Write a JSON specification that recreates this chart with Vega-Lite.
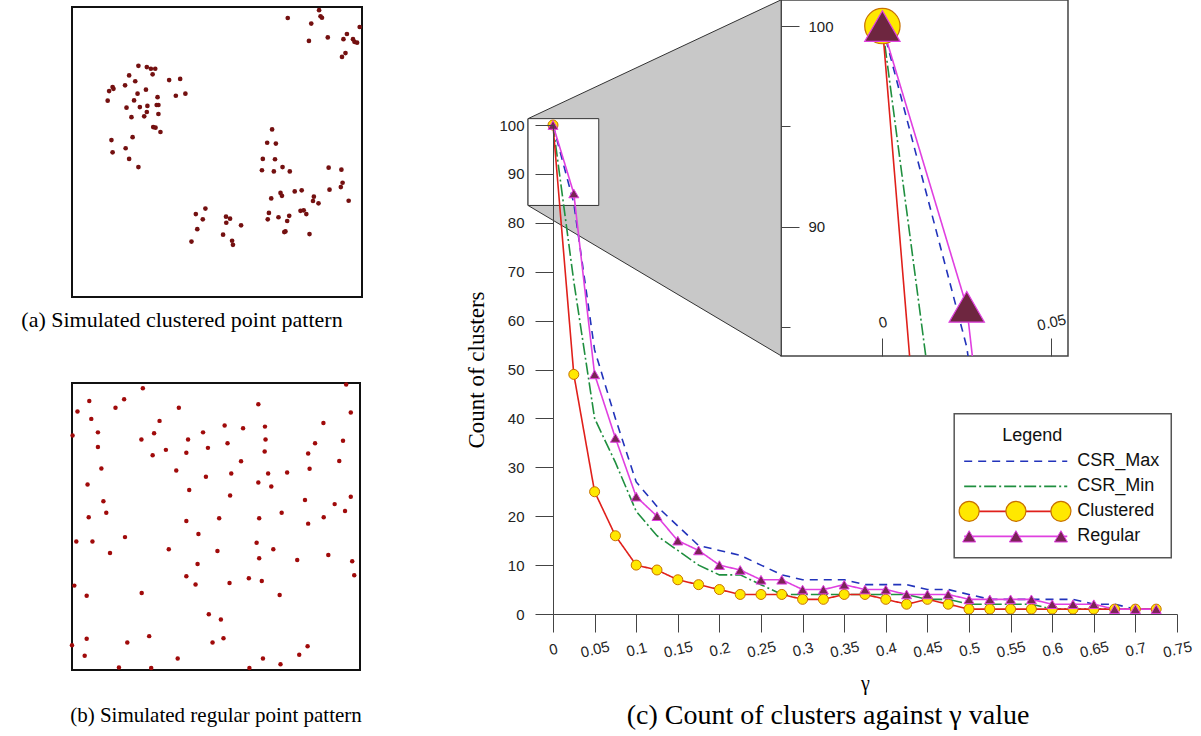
{
  "$schema": "https://vega.github.io/schema/vega-lite/v6.json",
  "background": "white",
  "padding": {"left": 20, "top": -3, "right": 0, "bottom": 0},
  "config": {
    "view": {"stroke": null},
    "axis": {"grid": false, "domainColor": "#444", "tickColor": "#444", "labelColor": "#222", "labelFont": "Liberation Sans", "labelFontSize": 15, "titleColor": "#000", "titleFont": "Liberation Serif", "titleFontWeight": "normal"},
    "title": {"font": "Liberation Serif", "fontWeight": "normal", "color": "#000"}
  },
  "datasets": {
    "one": [{}],
    "patA": [
      {"x":0.744,"y":0.962},{"x":0.852,"y":0.989},{"x":0.857,"y":0.968},{"x":0.862,"y":0.963},{"x":0.825,"y":0.943},{"x":0.817,"y":0.883},{"x":0.882,"y":0.895},{"x":0.936,"y":0.889},{"x":0.948,"y":0.907},{"x":0.969,"y":0.889},{"x":0.974,"y":0.880},{"x":0.983,"y":0.877},{"x":0.992,"y":0.931},{"x":0.943,"y":0.841},{"x":0.931,"y":0.828},
      {"x":0.229,"y":0.797},{"x":0.258,"y":0.793},{"x":0.272,"y":0.787},{"x":0.287,"y":0.787},{"x":0.278,"y":0.768},{"x":0.197,"y":0.764},{"x":0.218,"y":0.744},{"x":0.183,"y":0.730},{"x":0.140,"y":0.724},{"x":0.143,"y":0.718},{"x":0.128,"y":0.710},{"x":0.123,"y":0.677},{"x":0.255,"y":0.715},{"x":0.226,"y":0.701},{"x":0.214,"y":0.678},{"x":0.295,"y":0.689},{"x":0.335,"y":0.748},{"x":0.373,"y":0.752},{"x":0.358,"y":0.694},{"x":0.391,"y":0.701},{"x":0.188,"y":0.653},{"x":0.234,"y":0.655},{"x":0.260,"y":0.659},{"x":0.292,"y":0.662},{"x":0.298,"y":0.662},{"x":0.258,"y":0.638},{"x":0.298,"y":0.631},{"x":0.249,"y":0.623},{"x":0.205,"y":0.620},{"x":0.280,"y":0.586},{"x":0.288,"y":0.584},{"x":0.305,"y":0.569},{"x":0.136,"y":0.541},{"x":0.209,"y":0.551},{"x":0.140,"y":0.499},{"x":0.185,"y":0.513},{"x":0.197,"y":0.476},{"x":0.229,"y":0.448},
      {"x":0.427,"y":0.286},{"x":0.460,"y":0.305},{"x":0.451,"y":0.268},{"x":0.432,"y":0.234},{"x":0.412,"y":0.191},{"x":0.531,"y":0.277},{"x":0.545,"y":0.270},{"x":0.532,"y":0.256},{"x":0.583,"y":0.247},{"x":0.521,"y":0.215},{"x":0.552,"y":0.194},{"x":0.555,"y":0.180},
      {"x":0.690,"y":0.578},{"x":0.673,"y":0.532},{"x":0.703,"y":0.529},{"x":0.658,"y":0.476},{"x":0.700,"y":0.475},{"x":0.655,"y":0.437},{"x":0.696,"y":0.433},{"x":0.726,"y":0.448},{"x":0.751,"y":0.433},{"x":0.719,"y":0.359},{"x":0.724,"y":0.349},{"x":0.768,"y":0.364},{"x":0.792,"y":0.368},{"x":0.687,"y":0.340},{"x":0.679,"y":0.290},{"x":0.675,"y":0.268},{"x":0.712,"y":0.275},{"x":0.749,"y":0.280},{"x":0.742,"y":0.262},{"x":0.788,"y":0.297},{"x":0.799,"y":0.299},{"x":0.808,"y":0.286},{"x":0.834,"y":0.346},{"x":0.831,"y":0.331},{"x":0.850,"y":0.323},{"x":0.736,"y":0.226},{"x":0.732,"y":0.224},{"x":0.819,"y":0.217},{"x":0.885,"y":0.446},{"x":0.929,"y":0.439},{"x":0.888,"y":0.370},{"x":0.927,"y":0.379},{"x":0.933,"y":0.394},{"x":0.954,"y":0.332}
    ],
    "patB": [
      {"x":0.246,"y":0.982},{"x":0.952,"y":0.995},{"x":0.060,"y":0.937},{"x":0.181,"y":0.943},{"x":0.019,"y":0.901},{"x":0.151,"y":0.914},{"x":0.371,"y":0.914},{"x":0.647,"y":0.926},{"x":0.968,"y":0.897},{"x":0.067,"y":0.875},
      {"x":0.304,"y":0.868},{"x":0.090,"y":0.828},{"x":0.285,"y":0.825},{"x":0.002,"y":0.817},{"x":0.241,"y":0.803},{"x":0.403,"y":0.803},{"x":0.455,"y":0.828},{"x":0.530,"y":0.852},{"x":0.594,"y":0.842},{"x":0.670,"y":0.848},
      {"x":0.873,"y":0.861},{"x":0.672,"y":0.803},{"x":0.540,"y":0.790},{"x":0.472,"y":0.774},{"x":0.844,"y":0.790},{"x":0.941,"y":0.799},{"x":0.090,"y":0.777},{"x":0.280,"y":0.748},{"x":0.326,"y":0.767},{"x":0.397,"y":0.757},
      {"x":0.669,"y":0.761},{"x":0.820,"y":0.754},{"x":0.587,"y":0.727},{"x":0.928,"y":0.728},{"x":0.102,"y":0.702},{"x":0.362,"y":0.695},{"x":0.465,"y":0.673},{"x":0.553,"y":0.685},{"x":0.681,"y":0.685},{"x":0.747,"y":0.688},
      {"x":0.825,"y":0.701},{"x":0.647,"y":0.653},{"x":0.692,"y":0.639},{"x":0.054,"y":0.646},{"x":0.407,"y":0.627},{"x":0.549,"y":0.608},{"x":0.109,"y":0.588},{"x":0.119,"y":0.548},{"x":0.809,"y":0.592},{"x":0.912,"y":0.578},
      {"x":0.968,"y":0.604},{"x":0.948,"y":0.554},{"x":0.058,"y":0.532},{"x":0.397,"y":0.519},{"x":0.511,"y":0.529},{"x":0.650,"y":0.529},{"x":0.728,"y":0.548},{"x":0.874,"y":0.532},{"x":0.820,"y":0.510},{"x":0.015,"y":0.448},
      {"x":0.071,"y":0.448},{"x":0.184,"y":0.463},{"x":0.132,"y":0.408},{"x":0.336,"y":0.421},{"x":0.439,"y":0.474},{"x":0.505,"y":0.415},{"x":0.641,"y":0.443},{"x":0.699,"y":0.421},{"x":0.650,"y":0.389},{"x":0.782,"y":0.383},
      {"x":0.890,"y":0.401},{"x":0.973,"y":0.379},{"x":0.980,"y":0.330},{"x":0.436,"y":0.369},{"x":0.397,"y":0.327},{"x":0.429,"y":0.298},{"x":0.547,"y":0.303},{"x":0.614,"y":0.320},{"x":0.659,"y":0.310},{"x":0.721,"y":0.261},
      {"x":0.008,"y":0.294},{"x":0.051,"y":0.259},{"x":0.242,"y":0.268},{"x":0.475,"y":0.194},{"x":0.517,"y":0.176},{"x":0.051,"y":0.109},{"x":0.192,"y":0.096},{"x":0.268,"y":0.118},{"x":0.488,"y":0.096},{"x":0.526,"y":0.111},
      {"x":0.000,"y":0.086},{"x":0.044,"y":0.050},{"x":0.367,"y":0.040},{"x":0.163,"y":0.009},{"x":0.275,"y":0.007},{"x":0.616,"y":0.007},{"x":0.663,"y":0.040},{"x":0.724,"y":0.020},{"x":0.789,"y":0.053},{"x":0.818,"y":0.083}
    ],
    "curves": [
      {"g":0,"s":"CSR_Max","n":100},{"g":0.025,"s":"CSR_Max","n":84},{"g":0.05,"s":"CSR_Max","n":54},{"g":0.075,"s":"CSR_Max","n":40},{"g":0.1,"s":"CSR_Max","n":27},{"g":0.125,"s":"CSR_Max","n":22},{"g":0.15,"s":"CSR_Max","n":18},{"g":0.175,"s":"CSR_Max","n":14},{"g":0.2,"s":"CSR_Max","n":13},{"g":0.225,"s":"CSR_Max","n":12},{"g":0.25,"s":"CSR_Max","n":10},{"g":0.275,"s":"CSR_Max","n":8},{"g":0.3,"s":"CSR_Max","n":7},{"g":0.325,"s":"CSR_Max","n":7},{"g":0.35,"s":"CSR_Max","n":7},{"g":0.375,"s":"CSR_Max","n":6},{"g":0.4,"s":"CSR_Max","n":6},{"g":0.425,"s":"CSR_Max","n":6},{"g":0.45,"s":"CSR_Max","n":5},{"g":0.475,"s":"CSR_Max","n":5},{"g":0.5,"s":"CSR_Max","n":4},{"g":0.525,"s":"CSR_Max","n":3},{"g":0.55,"s":"CSR_Max","n":3},{"g":0.575,"s":"CSR_Max","n":3},{"g":0.6,"s":"CSR_Max","n":3},{"g":0.625,"s":"CSR_Max","n":3},{"g":0.65,"s":"CSR_Max","n":2},{"g":0.675,"s":"CSR_Max","n":2},{"g":0.7,"s":"CSR_Max","n":1},{"g":0.725,"s":"CSR_Max","n":1},
      {"g":0,"s":"CSR_Min","n":100},{"g":0.025,"s":"CSR_Min","n":68},{"g":0.05,"s":"CSR_Min","n":40},{"g":0.075,"s":"CSR_Min","n":31},{"g":0.1,"s":"CSR_Min","n":21},{"g":0.125,"s":"CSR_Min","n":16},{"g":0.15,"s":"CSR_Min","n":13},{"g":0.175,"s":"CSR_Min","n":10},{"g":0.2,"s":"CSR_Min","n":8},{"g":0.225,"s":"CSR_Min","n":8},{"g":0.25,"s":"CSR_Min","n":6},{"g":0.275,"s":"CSR_Min","n":4},{"g":0.3,"s":"CSR_Min","n":4},{"g":0.325,"s":"CSR_Min","n":4},{"g":0.35,"s":"CSR_Min","n":4},{"g":0.375,"s":"CSR_Min","n":4},{"g":0.4,"s":"CSR_Min","n":4},{"g":0.425,"s":"CSR_Min","n":4},{"g":0.45,"s":"CSR_Min","n":3},{"g":0.475,"s":"CSR_Min","n":3},{"g":0.5,"s":"CSR_Min","n":2},{"g":0.525,"s":"CSR_Min","n":2},{"g":0.55,"s":"CSR_Min","n":2},{"g":0.575,"s":"CSR_Min","n":2},{"g":0.6,"s":"CSR_Min","n":1},{"g":0.625,"s":"CSR_Min","n":1},{"g":0.65,"s":"CSR_Min","n":1},{"g":0.675,"s":"CSR_Min","n":1},{"g":0.7,"s":"CSR_Min","n":1},{"g":0.725,"s":"CSR_Min","n":1},
      {"g":0,"s":"Clustered","n":100},{"g":0.025,"s":"Clustered","n":49},{"g":0.05,"s":"Clustered","n":25},{"g":0.075,"s":"Clustered","n":16},{"g":0.1,"s":"Clustered","n":10},{"g":0.125,"s":"Clustered","n":9},{"g":0.15,"s":"Clustered","n":7},{"g":0.175,"s":"Clustered","n":6},{"g":0.2,"s":"Clustered","n":5},{"g":0.225,"s":"Clustered","n":4},{"g":0.25,"s":"Clustered","n":4},{"g":0.275,"s":"Clustered","n":4},{"g":0.3,"s":"Clustered","n":3},{"g":0.325,"s":"Clustered","n":3},{"g":0.35,"s":"Clustered","n":4},{"g":0.375,"s":"Clustered","n":4},{"g":0.4,"s":"Clustered","n":3},{"g":0.425,"s":"Clustered","n":2},{"g":0.45,"s":"Clustered","n":3},{"g":0.475,"s":"Clustered","n":2},{"g":0.5,"s":"Clustered","n":1},{"g":0.525,"s":"Clustered","n":1},{"g":0.55,"s":"Clustered","n":1},{"g":0.575,"s":"Clustered","n":1},{"g":0.6,"s":"Clustered","n":1},{"g":0.625,"s":"Clustered","n":1},{"g":0.65,"s":"Clustered","n":1},{"g":0.675,"s":"Clustered","n":1},{"g":0.7,"s":"Clustered","n":1},{"g":0.725,"s":"Clustered","n":1},
      {"g":0,"s":"Regular","n":100},{"g":0.025,"s":"Regular","n":86},{"g":0.05,"s":"Regular","n":49},{"g":0.075,"s":"Regular","n":36},{"g":0.1,"s":"Regular","n":24},{"g":0.125,"s":"Regular","n":20},{"g":0.15,"s":"Regular","n":15},{"g":0.175,"s":"Regular","n":13},{"g":0.2,"s":"Regular","n":10},{"g":0.225,"s":"Regular","n":9},{"g":0.25,"s":"Regular","n":7},{"g":0.275,"s":"Regular","n":7},{"g":0.3,"s":"Regular","n":5},{"g":0.325,"s":"Regular","n":5},{"g":0.35,"s":"Regular","n":6},{"g":0.375,"s":"Regular","n":5},{"g":0.4,"s":"Regular","n":5},{"g":0.425,"s":"Regular","n":4},{"g":0.45,"s":"Regular","n":4},{"g":0.475,"s":"Regular","n":4},{"g":0.5,"s":"Regular","n":3},{"g":0.525,"s":"Regular","n":3},{"g":0.55,"s":"Regular","n":3},{"g":0.575,"s":"Regular","n":3},{"g":0.6,"s":"Regular","n":2},{"g":0.625,"s":"Regular","n":2},{"g":0.65,"s":"Regular","n":2},{"g":0.675,"s":"Regular","n":1},{"g":0.7,"s":"Regular","n":1},{"g":0.725,"s":"Regular","n":1}
    ],
    "zoomwin": [{"gx0": -0.03, "gx1": 0.055, "ny0": 83.55, "ny1": 101.3}],
    "link": [{"g": -0.03, "top": 101.3, "bot": 83.55}, {"g": 0.2742, "top": 125.6, "bot": 52.8}]
  },
  "spacing": 101,
  "hconcat": [
    {
      "spacing": 49,
      "vconcat": [
        {
          "width": 290, "height": 290,
          "data": {"name": "patA"},
          "view": {"stroke": "#111", "strokeWidth": 2},
          "title": {"text": "(a) Simulated clustered point pattern", "orient": "bottom", "fontSize": 22, "offset": 13, "dx": -35},
          "mark": {"type": "circle", "size": 22, "color": "#741010", "opacity": 1},
          "encoding": {
            "x": {"field": "x", "type": "quantitative", "scale": {"domain": [0, 1], "nice": false}, "axis": null},
            "y": {"field": "y", "type": "quantitative", "scale": {"domain": [0, 1], "nice": false}, "axis": null}
          }
        },
        {
          "width": 288, "height": 287,
          "data": {"name": "patB"},
          "view": {"stroke": "#111", "strokeWidth": 2},
          "title": {"text": "(b) Simulated regular point pattern", "orient": "bottom", "fontSize": 21, "offset": 35},
          "mark": {"type": "circle", "size": 20, "color": "#a00a0a", "opacity": 1},
          "encoding": {
            "x": {"field": "x", "type": "quantitative", "scale": {"domain": [0, 1], "nice": false}, "axis": null},
            "y": {"field": "y", "type": "quantitative", "scale": {"domain": [0, 1], "nice": false}, "axis": null}
          }
        }
      ]
    },
    {
      "columns": 1,
      "align": "none",
      "bounds": "flush",
      "spacing": -231,
      "concat": [
        {
          "width": 624, "height": 349,
          "layer": [
            {
              "data": {"name": "zoomwin"},
              "mark": {"type": "rect", "fill": "white", "stroke": "#444", "strokeWidth": 1.5},
              "encoding": {
                "x": {"field": "gx0", "type": "quantitative", "scale": {"domain": [-0.0976, 0.0873], "nice": false, "zero": false},
                      "axis": {"orient": "top", "offset": -349, "values": [0, 0.05], "format": "~g", "tickSize": 18, "labelAngle": -13, "labelAlign": "center", "labelBaseline": "middle", "labelPadding": 16, "domain": false, "title": null, "labelFlush": false, "zindex": 1}},
                "x2": {"field": "gx1"},
                "y": {"field": "ny0", "type": "quantitative", "scale": {"domain": [83.55, 100.95], "nice": false, "zero": false},
                      "axis": {"orient": "right", "offset": -396, "values": [85, 90, 95, 100], "tickSize": {"condition": {"test": "datum.value % 10 !== 0", "value": 9}, "value": 18}, "labelExpr": "datum.value % 10 === 0 ? datum.label : ''", "labelPadding": 9, "domain": false, "title": null, "zindex": 1}},
                "y2": {"field": "ny1"}
              }
            },
            {
              "data": {"name": "curves"},
              "mark": {"type": "line", "clip": true, "strokeWidth": 1.6},
              "encoding": {
                "x": {"field": "g", "type": "quantitative", "scale": {"domain": [-0.0976, 0.0873], "nice": false, "zero": false}},
                "y": {"field": "n", "type": "quantitative", "scale": {"domain": [83.55, 100.95], "nice": false, "zero": false}},
                "color": {"field": "s", "type": "nominal", "scale": {"domain": ["CSR_Max", "CSR_Min", "Clustered", "Regular"], "range": ["#2233bb", "#1f8f3f", "#e0201b", "#e040e0"]}, "legend": null},
                "strokeDash": {"field": "s", "type": "nominal", "scale": {"domain": ["CSR_Max", "CSR_Min", "Clustered", "Regular"], "range": [[8, 6], [12, 3, 2, 3], [1, 0], [1, 0]]}, "legend": null}
              }
            },
            {
              "data": {"name": "curves"},
              "transform": [{"filter": "datum.s === 'Clustered'"}],
              "mark": {"type": "point", "shape": "circle", "filled": true, "fill": "#ffe800", "stroke": "#c87000", "clip": true, "size": 1250, "strokeWidth": 1.2, "opacity": 1},
              "encoding": {
                "x": {"field": "g", "type": "quantitative", "scale": {"domain": [-0.0976, 0.0873], "nice": false, "zero": false}},
                "y": {"field": "n", "type": "quantitative", "scale": {"domain": [83.55, 100.95], "nice": false, "zero": false}}
              }
            },
            {
              "data": {"name": "curves"},
              "transform": [{"filter": "datum.s === 'Regular'"}],
              "mark": {"type": "point", "shape": "triangle-up", "filled": true, "fill": "#6e2640", "stroke": "#e040e0", "clip": true, "size": 1250, "strokeWidth": 1.2, "opacity": 1},
              "encoding": {
                "x": {"field": "g", "type": "quantitative", "scale": {"domain": [-0.0976, 0.0873], "nice": false, "zero": false}},
                "y": {"field": "n", "type": "quantitative", "scale": {"domain": [83.55, 100.95], "nice": false, "zero": false}}
              }
            }
          ]
        },
        {
          "width": 624, "height": 489,
          "title": {"text": "(c) Count of clusters against γ value", "orient": "bottom", "fontSize": 28, "offset": 9, "dx": -37},
          "layer": [
            {
              "data": {"name": "link"},
              "mark": {"type": "area", "fill": "#c8c8c8", "stroke": "#333", "strokeWidth": 1, "opacity": 1},
              "encoding": {
                "x": {"field": "g", "type": "quantitative", "scale": {"domain": [0, 0.75], "nice": false, "zero": false},
                      "axis": {"values": [0, 0.05, 0.1, 0.15, 0.2, 0.25, 0.3, 0.35, 0.4, 0.45, 0.5, 0.55, 0.6, 0.65, 0.7, 0.75], "format": "~g", "tickSize": 18, "labelAngle": -13, "labelAlign": "center", "labelBaseline": "middle", "labelPadding": 17, "labelFlush": false, "labelOverlap": false, "title": "γ", "titleFontSize": 20, "titlePadding": 13, "zindex": 1}},
                "y": {"field": "top", "type": "quantitative", "scale": {"domain": [0, 100], "nice": false, "zero": false},
                      "axis": {"values": [0, 5, 10, 15, 20, 25, 30, 35, 40, 45, 50, 55, 60, 65, 70, 75, 80, 85, 90, 95, 100], "tickSize": {"condition": {"test": "datum.value % 10 !== 0", "value": 9}, "value": 18}, "labelExpr": "datum.value % 10 === 0 ? datum.label : ''", "labelPadding": 11, "labelOverlap": false, "title": "Count of clusters", "titleFontSize": 23, "titlePadding": 10, "zindex": 1}},
                "y2": {"field": "bot"}
              }
            },
            {
              "data": {"name": "zoomwin"},
              "mark": {"type": "rect", "fill": "white", "stroke": "#333", "strokeWidth": 1},
              "encoding": {
                "x": {"field": "gx0", "type": "quantitative", "scale": {"domain": [0, 0.75], "nice": false, "zero": false}},
                "x2": {"field": "gx1"},
                "y": {"field": "ny0", "type": "quantitative", "scale": {"domain": [0, 100], "nice": false, "zero": false}},
                "y2": {"field": "ny1"}
              }
            },
            {
              "data": {"name": "curves"},
              "mark": {"type": "line", "strokeWidth": 1.6},
              "encoding": {
                "x": {"field": "g", "type": "quantitative", "scale": {"domain": [0, 0.75], "nice": false, "zero": false}},
                "y": {"field": "n", "type": "quantitative", "scale": {"domain": [0, 100], "nice": false, "zero": false}},
                "color": {"field": "s", "type": "nominal", "scale": {"domain": ["CSR_Max", "CSR_Min", "Clustered", "Regular"], "range": ["#2233bb", "#1f8f3f", "#e0201b", "#e040e0"]}, "legend": null},
                "strokeDash": {"field": "s", "type": "nominal", "scale": {"domain": ["CSR_Max", "CSR_Min", "Clustered", "Regular"], "range": [[8, 6], [12, 3, 2, 3], [1, 0], [1, 0]]}, "legend": null}
              }
            },
            {
              "data": {"name": "curves"},
              "transform": [{"filter": "datum.s === 'Clustered'"}],
              "mark": {"type": "point", "shape": "circle", "filled": true, "fill": "#ffe800", "stroke": "#c87000", "size": 100, "strokeWidth": 1, "opacity": 1},
              "encoding": {
                "x": {"field": "g", "type": "quantitative", "scale": {"domain": [0, 0.75], "nice": false, "zero": false}},
                "y": {"field": "n", "type": "quantitative", "scale": {"domain": [0, 100], "nice": false, "zero": false}}
              }
            },
            {
              "data": {"name": "curves"},
              "transform": [{"filter": "datum.s === 'Regular'"}],
              "mark": {"type": "point", "shape": "triangle-up", "filled": true, "fill": "#7a2456", "stroke": "#e040e0", "size": 100, "strokeWidth": 1, "opacity": 1},
              "encoding": {
                "x": {"field": "g", "type": "quantitative", "scale": {"domain": [0, 0.75], "nice": false, "zero": false}},
                "y": {"field": "n", "type": "quantitative", "scale": {"domain": [0, 100], "nice": false, "zero": false}}
              }
            },
            {"data": {"name": "one"}, "mark": {"type": "rect", "fill": "white", "stroke": "#555", "strokeWidth": 1.5},
             "encoding": {"x": {"datum": 0.4822, "type": "quantitative"}, "x2": {"datum": 0.7431}, "y": {"datum": 40.97, "type": "quantitative"}, "y2": {"datum": 11.52}}},
            {"data": {"name": "one"}, "mark": {"type": "text", "text": "Legend", "font": "Liberation Sans", "fontSize": 18, "align": "center", "baseline": "middle", "color": "#111"},
             "encoding": {"x": {"datum": 0.576, "type": "quantitative"}, "y": {"datum": 36.46, "type": "quantitative"}}},
            {"data": {"name": "one"}, "mark": {"type": "rule", "stroke": "#2233bb", "strokeWidth": 1.6, "strokeDash": [8, 6]},
             "encoding": {"x": {"datum": 0.4942, "type": "quantitative"}, "x2": {"datum": 0.6181}, "y": {"datum": 31.23, "type": "quantitative"}}},
            {"data": {"name": "one"}, "mark": {"type": "rule", "stroke": "#1f8f3f", "strokeWidth": 1.6, "strokeDash": [12, 3, 2, 3]},
             "encoding": {"x": {"datum": 0.4942, "type": "quantitative"}, "x2": {"datum": 0.6181}, "y": {"datum": 26.1, "type": "quantitative"}}},
            {"data": {"name": "one"}, "mark": {"type": "rule", "stroke": "#e0201b", "strokeWidth": 1.6},
             "encoding": {"x": {"datum": 0.4942, "type": "quantitative"}, "x2": {"datum": 0.6181}, "y": {"datum": 20.99, "type": "quantitative"}}},
            {"data": {"name": "one"}, "mark": {"type": "rule", "stroke": "#e040e0", "strokeWidth": 1.6},
             "encoding": {"x": {"datum": 0.4942, "type": "quantitative"}, "x2": {"datum": 0.6181}, "y": {"datum": 15.88, "type": "quantitative"}}},
            {"data": {"name": "one"}, "mark": {"type": "point", "shape": "circle", "filled": true, "fill": "#ffe800", "stroke": "#c87000", "strokeWidth": 1.2, "size": 400, "opacity": 1},
             "encoding": {"x": {"datum": 0.5002, "type": "quantitative"}, "y": {"datum": 20.99, "type": "quantitative"}}},
            {"data": {"name": "one"}, "mark": {"type": "point", "shape": "circle", "filled": true, "fill": "#ffe800", "stroke": "#c87000", "strokeWidth": 1.2, "size": 400, "opacity": 1},
             "encoding": {"x": {"datum": 0.5564, "type": "quantitative"}, "y": {"datum": 20.99, "type": "quantitative"}}},
            {"data": {"name": "one"}, "mark": {"type": "point", "shape": "circle", "filled": true, "fill": "#ffe800", "stroke": "#c87000", "strokeWidth": 1.2, "size": 400, "opacity": 1},
             "encoding": {"x": {"datum": 0.6105, "type": "quantitative"}, "y": {"datum": 20.99, "type": "quantitative"}}},
            {"data": {"name": "one"}, "mark": {"type": "point", "shape": "triangle-up", "filled": true, "fill": "#7a2456", "stroke": "#e040e0", "strokeWidth": 1, "size": 170, "opacity": 1},
             "encoding": {"x": {"datum": 0.5002, "type": "quantitative"}, "y": {"datum": 15.88, "type": "quantitative"}}},
            {"data": {"name": "one"}, "mark": {"type": "point", "shape": "triangle-up", "filled": true, "fill": "#7a2456", "stroke": "#e040e0", "strokeWidth": 1, "size": 170, "opacity": 1},
             "encoding": {"x": {"datum": 0.5564, "type": "quantitative"}, "y": {"datum": 15.88, "type": "quantitative"}}},
            {"data": {"name": "one"}, "mark": {"type": "point", "shape": "triangle-up", "filled": true, "fill": "#7a2456", "stroke": "#e040e0", "strokeWidth": 1, "size": 170, "opacity": 1},
             "encoding": {"x": {"datum": 0.6105, "type": "quantitative"}, "y": {"datum": 15.88, "type": "quantitative"}}},
            {"data": {"name": "one"}, "mark": {"type": "text", "text": "CSR_Max", "font": "Liberation Sans", "fontSize": 18, "align": "left", "baseline": "middle", "color": "#111"},
             "encoding": {"x": {"datum": 0.6301, "type": "quantitative"}, "y": {"datum": 31.23, "type": "quantitative"}}},
            {"data": {"name": "one"}, "mark": {"type": "text", "text": "CSR_Min", "font": "Liberation Sans", "fontSize": 18, "align": "left", "baseline": "middle", "color": "#111"},
             "encoding": {"x": {"datum": 0.6301, "type": "quantitative"}, "y": {"datum": 26.1, "type": "quantitative"}}},
            {"data": {"name": "one"}, "mark": {"type": "text", "text": "Clustered", "font": "Liberation Sans", "fontSize": 18, "align": "left", "baseline": "middle", "color": "#111"},
             "encoding": {"x": {"datum": 0.6301, "type": "quantitative"}, "y": {"datum": 20.99, "type": "quantitative"}}},
            {"data": {"name": "one"}, "mark": {"type": "text", "text": "Regular", "font": "Liberation Sans", "fontSize": 18, "align": "left", "baseline": "middle", "color": "#111"},
             "encoding": {"x": {"datum": 0.6301, "type": "quantitative"}, "y": {"datum": 15.88, "type": "quantitative"}}}
          ]
        }
      ]
    }
  ]
}
